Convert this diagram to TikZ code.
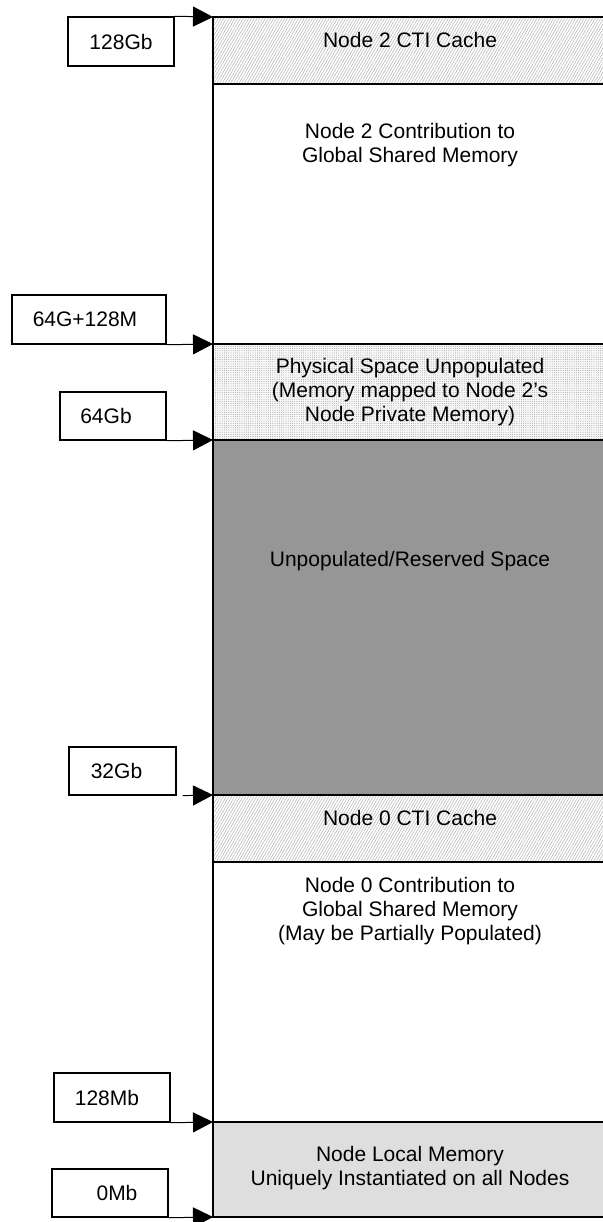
\documentclass[tikz,border=0pt]{standalone}
\usepackage{fontspec}
\setmainfont{Liberation Sans}
\usetikzlibrary{arrows.meta,patterns.meta}
\tikzset{
  blk/.style={draw, line width=1.5pt, inner sep=0pt, outer sep=0pt, anchor=north west, minimum width=396pt},
  hatchfill/.style={preaction={fill=white}, pattern={Lines[angle=60,distance=2.4pt,line width=0.45pt]}, pattern color=black!32},
  dotfill/.style={preaction={fill=gray!6}, pattern={Dots[distance=2.2pt,radius=0.4pt]}, pattern color=black!50},
  btxt/.style={align=center, font=\fontsize{21}{24}\selectfont, inner sep=0pt},
  lbox/.style={draw, line width=1.5pt, inner sep=0pt, font=\fontsize{21}{24}\selectfont},
  conn/.style={line width=1pt, -{Triangle[length=20pt,width=20pt]}},
}
\begin{document}
\begin{tikzpicture}[x=1pt,y=-1pt]
\useasboundingbox (0,0) rectangle (602,1222);
% column blocks
\node[blk, hatchfill, minimum height=67pt] (cti2) at (213,17) {};
\node[blk, fill=white, minimum height=260pt] (con2) at (213,84) {};
\node[blk, dotfill, minimum height=96pt] (phys) at (213,344) {};
\node[blk, fill=black!41, minimum height=355pt] (resv) at (213,440) {};
\node[blk, hatchfill, minimum height=67pt] (cti0) at (213,795) {};
\node[blk, fill=white, minimum height=260pt] (con0) at (213,862) {};
\node[blk, fill=black!13, minimum height=95pt] (locm) at (213,1122) {};
% block texts
\node[btxt] (tcti2) at (410,40) {Node 2 CTI Cache};
\node[btxt] (tcon2) at (410,145) {Node 2 Contribution to\\Global Shared Memory};
\node[btxt] (tphys) at (410,392) {Physical Space Unpopulated\\(Memory mapped to Node 2’s\\Node Private Memory)};
\node[btxt] (tresv) at (410,561) {Unpopulated/Reserved Space};
\node[btxt] (tcti0) at (410,818) {Node 0 CTI Cache};
\node[btxt] (tcon0) at (410,911) {Node 0 Contribution to\\Global Shared Memory\\(May be Partially Populated)};
\node[btxt] (tlocm) at (410,1168) {Node Local Memory\\Uniquely Instantiated on all Nodes};
% address labels
\node[lbox, minimum width=106pt, minimum height=49pt] (a128g) at (121,41.5) {128Gb};
\node[lbox, minimum width=154pt, minimum height=49pt] (a64m) at (89,319.5) {\hspace*{-8pt}64G+128M};
\node[lbox, minimum width=106pt, minimum height=48pt] (a64g) at (113,416) {\hspace*{-14pt}64Gb};
\node[lbox, minimum width=107pt, minimum height=48pt] (a32g) at (122.5,771) {\hspace*{-12pt}32Gb};
\node[lbox, minimum width=116pt, minimum height=49pt] (a128m) at (112,1097.5) {\hspace*{-10pt}128Mb};
\node[lbox, minimum width=116pt, minimum height=48pt] (a0m) at (110,1193) {0Mb\hspace*{-14pt}};
% connectors
\draw[conn] (a128g.north east) -- (cti2.north west);
\draw[conn] (a64m.south east) -- (phys.north west);
\draw[conn] (a64g.south east) -- (resv.north west);
\draw[conn, shorten <=6pt] (a32g.south east) -- (cti0.north west);
\draw[conn] (a128m.south east) -- (locm.north west);
\draw[conn] (a0m.south east) -- (locm.south west);
\end{tikzpicture}
\end{document}
